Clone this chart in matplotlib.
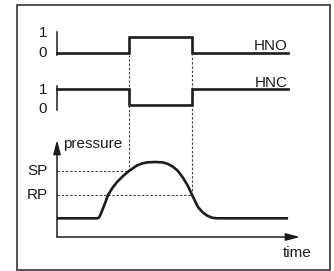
import matplotlib
matplotlib.use("Agg")
import matplotlib.pyplot as plt
from matplotlib.patches import Rectangle

plt.rcParams['font.family'] = ['Liberation Sans', 'DejaVu Sans']

W, H = 334, 271
INK = '#1c1c1c'
GREY = '#444444'

# switching times (time axis runs 0..100)
t_on = 29.6
t_off = 55.6
t_end = 95.1

# digital outputs
sig_t = [0, t_on, t_off, t_end]
hno = [0, 1, 0, 0]
hnc = [1, 0, 1, 1]

# pressure curve
p_t = [0, 16.5, 17.3, 18.1, 19.8, 21.0, 22.8, 24.7, 27.2, 29.6, 32.9, 35.0, 37.0,
       40.3, 43.6, 45.7, 47.7, 49.8, 51.9, 53.9, 55.6, 58.0, 60.0, 61.7, 63.8,
       65.8, 95.1]
p_val = [18.7, 18.7, 19.5, 23.5, 34, 42, 49, 55, 61, 66, 71.5, 73.5, 74.6,
         75, 74.6, 73, 70.3, 66, 59, 51, 42, 30, 24.5, 21.5, 19.3,
         18.7, 18.7]
SP = 66
RP = 42

fig = plt.figure(figsize=(W / 100, H / 100), dpi=100)


def px_axes(left, top, right, bottom):
    return fig.add_axes([left / W, 1 - bottom / H, (right - left) / W, (bottom - top) / H])


# outer frame
fig.patches.append(Rectangle((17 / W, 1 - 270 / H), 313 / W, 265 / H,
                             transform=fig.transFigure, fill=False,
                             edgecolor='#333333', lw=1.2))

# pressure plot
ax_p = px_axes(57, 140, 300, 237)
ax_p.set_xlim(0, 100)
ax_p.set_ylim(0, 97)
ax_p.axis('off')
arrow = dict(arrowstyle='-|>,head_length=0.6,head_width=0.16', color=INK, lw=1.1,
             mutation_scale=14, shrinkA=0, shrinkB=0)
ax_p.annotate('', xy=(100, 0), xytext=(0, 0), arrowprops=arrow, annotation_clip=False)
ax_p.annotate('', xy=(0, 97), xytext=(0, 0), arrowprops=arrow, annotation_clip=False)
ax_p.plot(p_t, p_val, color=INK, lw=1.9, solid_capstyle='butt', zorder=3)

dash = dict(color=GREY, lw=0.8, dashes=(2.2, 1.6), clip_on=False)
ax_p.plot([0, t_on], [SP, SP], **dash)
ax_p.plot([0, t_off], [RP, RP], **dash)
ax_p.plot([t_on, t_on], [SP, 182], **dash)
ax_p.plot([t_off, t_off], [RP, 182], **dash)

ax_p.text(-3.7, SP, 'SP', ha='right', va='center', fontsize=11, color=INK)
ax_p.text(-3.7, RP, 'RP', ha='right', va='center', fontsize=11, color=INK)
ax_p.text(2.3, 93, 'pressure', ha='left', va='center', fontsize=11, color=INK)
ax_p.text(93, -20, 'time', ha='left', va='baseline', fontsize=11, color=INK)

# digital signals
for (top, bottom, lo, hi, vals, name, name_y, lab_y) in [
        (32, 55, -0.125, 1.3125, hno, 'HNO', 0.19, (1.25, 0.0)),
        (86, 110, -0.3125, 1.1875, hnc, 'HNC', 1.14, (0.94, -0.25))]:
    ax = px_axes(57, top, 300, bottom)
    ax.set_xlim(0, 100)
    ax.set_ylim(lo, hi)
    for s in ['top', 'right', 'bottom']:
        ax.spines[s].set_visible(False)
    ax.spines['left'].set_linewidth(1.1)
    ax.spines['left'].set_color(INK)
    ax.set_xticks([])
    ax.set_yticks([])
    ax.patch.set_alpha(0)
    ax.plot(sig_t, vals, drawstyle='steps-post', color=INK, lw=1.9,
            solid_joinstyle='miter', clip_on=False)
    ax.text(t_end, name_y, name, ha='right', va='baseline', fontsize=11, color=INK)
    ax.text(-4.1, lab_y[0], '1', ha='right', va='center', fontsize=11, color=INK)
    ax.text(-4.1, lab_y[1], '0', ha='right', va='center', fontsize=11, color=INK)

fig.savefig('out.png', dpi=100)
